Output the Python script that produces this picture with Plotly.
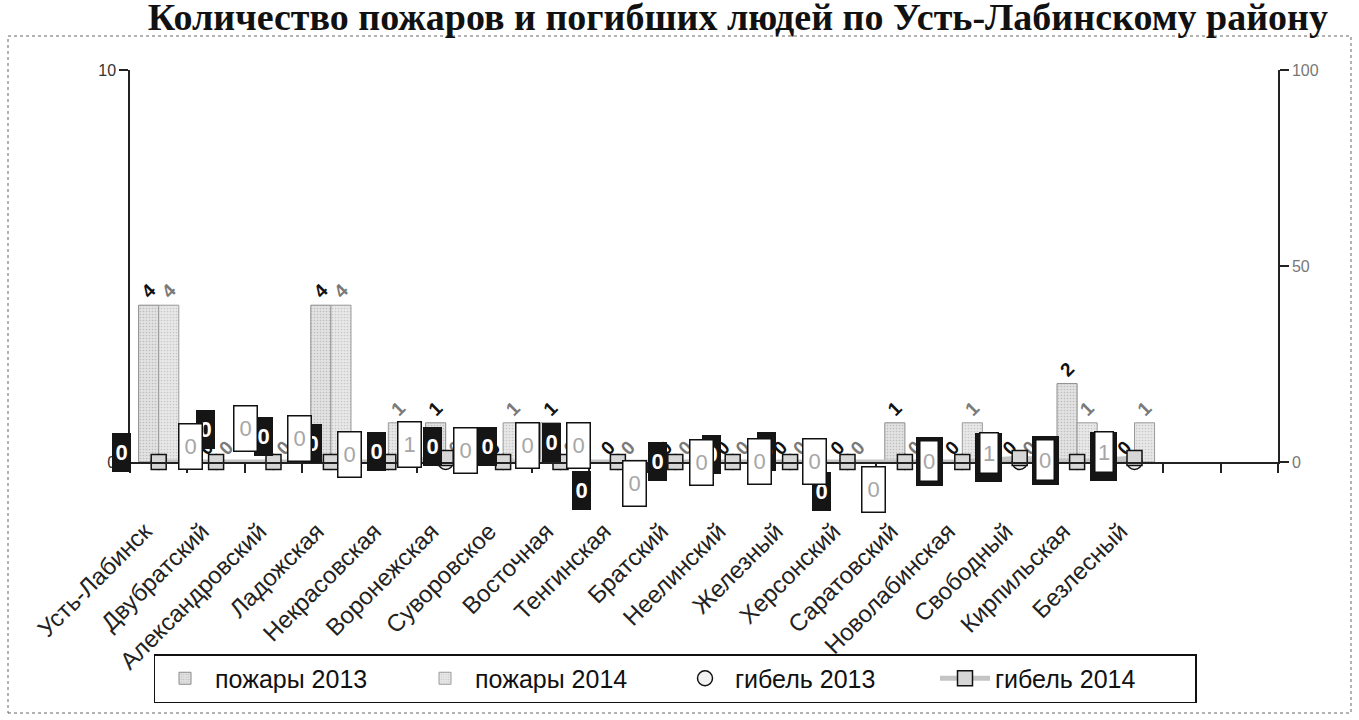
import plotly.graph_objects as go

# ---------------- data ----------------
categories = ["Усть-Лабинск", "Двубратский", "Александровский", "Ладожская",
              "Некрасовская", "Воронежская", "Суворовское", "Восточная",
              "Тенгинская", "Братский", "Неелинский", "Железный", "Херсонский",
              "Саратовский", "Новолабинская", "Свободный", "Кирпильская", "Безлесный"]
pozhary_2013 = [4, 0, 0, 4, 0, 1, 0, 1, 0, 0, 0, 0, 0, 1, 0, 0, 2, 0]
pozhary_2014 = [4, 0, 0, 4, 1, 0, 1, 0, 0, 0, 0, 0, 0, 0, 1, 0, 1, 1]
gibel_2013 = [0, 0, 0, 0, 0, 0, 0, 0, 0, 0, 0, 0, 0, 0, 0, 0, 0, 0]
gibel_2014 = [0, 0, 0, 0, 0, 1, 0, 0, 0, 0, 0, 0, 0, 0, 0, 1, 0, 1]
n_slots = 20  # category slots on the axis (last two empty)

# ---------------- styles ----------------
W, H = 1359, 720
L, R, T, B = 130, 81, 70, 258
PW, PH = W - L - R, H - T - B

def px_x(px):
    return (px - L) / PW

def px_y(py):
    return (H - B - py) / PH

# label box offsets (pixels, relative to point) - purely positional styling
white_off = [None, (-26, -16), (-28, -34), (-31, -24), (-39, -8), (-36, -14), (-38, -12),
             (-33, -17), (-39, -17), (-41, 21), (-31, 0), (-31, -1), (-33, -1), (-31, 27),
             (-33, -1), (-31, -5), (-32, -2), (-31, -6)]
dark_off = [(-37, -10), (-11, -33), (-10, -26), (-18, -19), (-12, -11), (-13, -16), (-16, -16),
            (-9, -20), (-36, 28), (-18, -1), (-21, -8), (-24, -11), (-26, 29), None,
            "double", "double", "double", "double"]

FONT = "Liberation Sans, Arial, sans-serif"
xs = list(range(len(categories)))

fig = go.Figure()

bar_common = dict(textposition="outside", textangle=-45, cliponaxis=False,
                  constraintext="none")
fig.add_trace(go.Bar(
    x=xs, y=pozhary_2013, name="пожары 2013", text=[str(v) for v in pozhary_2013],
    marker=dict(color="#d4d4d4", line=dict(color="#8c8c8c", width=1),
                pattern=dict(shape=".", fgcolor="#9a9a9a", bgcolor="#e2e2e2",
                             size=3, solidity=0.25)),
    textfont=dict(family=FONT, size=19, color="#111111", weight="bold"),
    **bar_common))
fig.add_trace(go.Bar(
    x=xs, y=pozhary_2014, name="пожары 2014", text=[str(v) for v in pozhary_2014],
    marker=dict(color="#d4d4d4", line=dict(color="#9a9a9a", width=1),
                pattern=dict(shape=".", fgcolor="#a8a8a8", bgcolor="#e8e8e8",
                             size=3, solidity=0.25)),
    textfont=dict(family=FONT, size=19, color="#7a7a7a", weight="bold"),
    **bar_common))
fig.add_trace(go.Scatter(
    x=xs, y=gibel_2013, name="гибель 2013", yaxis="y2", mode="markers",
    marker=dict(symbol="circle", size=15, color="#f2f2f2",
                line=dict(color="#111111", width=1.5)),
    cliponaxis=False))
fig.add_trace(go.Scatter(
    x=xs, y=gibel_2014, name="гибель 2014", yaxis="y2", mode="lines+markers",
    line=dict(color="#c4c4c4", width=5),
    marker=dict(symbol="square", size=15, color="#d6d6d6",
                line=dict(color="#111111", width=1.5)),
    cliponaxis=False))

# data label boxes for the гибель series
annotations = []
for i in xs:
    d = dark_off[i]
    w = white_off[i]
    if d == "double" and w is not None:
        annotations.append(dict(
            x=i, y=gibel_2013[i], xref="x", yref="y2", xshift=w[0], yshift=-w[1],
            text="", showarrow=False, width=27, height=49, bgcolor="#151515",
            borderpad=0, borderwidth=0))
    elif d is not None:
        annotations.append(dict(
            x=i, y=gibel_2013[i], xref="x", yref="y2", xshift=d[0], yshift=-d[1],
            text=str(gibel_2013[i]), showarrow=False, width=19, height=39,
            bgcolor="#151515", borderpad=0, borderwidth=0,
            font=dict(family=FONT, size=22, color="white", weight="bold")))
    if w is not None:
        double = d == "double"
        annotations.append(dict(
            x=i, y=gibel_2014[i], xref="x", yref="y2", xshift=w[0], yshift=-w[1],
            text=str(gibel_2014[i]), showarrow=False,
            width=17 if double else 22, height=39 if double else 44,
            bgcolor="white", bordercolor="#111111", borderwidth=1.5, borderpad=0,
            font=dict(family=FONT, size=22, color="#a6a6a6")))

fig.update_layout(
    width=W, height=H,
    margin=dict(l=L, r=R, t=T, b=B, autoexpand=False),
    paper_bgcolor="white", plot_bgcolor="white",
    barmode="group", bargap=0.3, bargroupgap=0,
    font=dict(family=FONT, color="#222222"),
    title=dict(text="Количество пожаров и погибших людей по Усть-Лабинскому району",
               x=0.543, xanchor="center", y=0.977, yanchor="middle",
               font=dict(family="Liberation Serif, Times New Roman, serif", size=38,
                         color="#111111", weight="bold")),
    xaxis=dict(range=[-0.5, n_slots - 0.5], tickmode="array", tickvals=xs,
               ticktext=categories, tickangle=-45, ticks="", automargin=False,
               tickfont=dict(family=FONT, size=24, color="#222222"),
               ticklabelstandoff=44, ticklabelshift=-14,
               showline=True, linecolor="#222222", linewidth=1.5,
               showgrid=False, zeroline=False,
               minor=dict(ticks="outside", ticklen=9, tick0=-0.5, dtick=1,
                          tickcolor="#222222", tickwidth=1.5, showgrid=False)),
    yaxis=dict(range=[0, 10], tickvals=[0, 10], ticks="outside", ticklen=9,
               tickwidth=1.5, tickcolor="#222222", automargin=False,
               showline=True, linecolor="#222222", linewidth=1.5,
               showgrid=False, zeroline=False,
               tickfont=dict(family=FONT, size=16, color="#333333")),
    yaxis2=dict(range=[0, 100], tickvals=[0, 50, 100], overlaying="y", side="right",
                ticks="outside", ticklen=9, tickwidth=1.5, tickcolor="#222222",
                showline=True, linecolor="#222222", linewidth=1.5, automargin=False,
                showgrid=False, zeroline=False,
                tickfont=dict(family=FONT, size=16, color="#777777")),
    legend=dict(orientation="h", x=px_x(675), xanchor="center", y=px_y(654),
                yanchor="top", bordercolor="#111111", borderwidth=1.5,
                bgcolor="white", itemwidth=50, entrywidth=195,
                font=dict(family=FONT, size=25, color="#111111")),
    annotations=annotations,
    shapes=[dict(type="rect", xref="paper", yref="paper",
                 x0=px_x(8), x1=px_x(1351), y0=px_y(713), y1=px_y(36),
                 line=dict(color="#666666", width=1, dash="dot"), layer="below")],
    showlegend=True,
)

fig.write_html("out.html", config={"displayModeBar": False},
               post_script="document.body.style.margin='0';")
